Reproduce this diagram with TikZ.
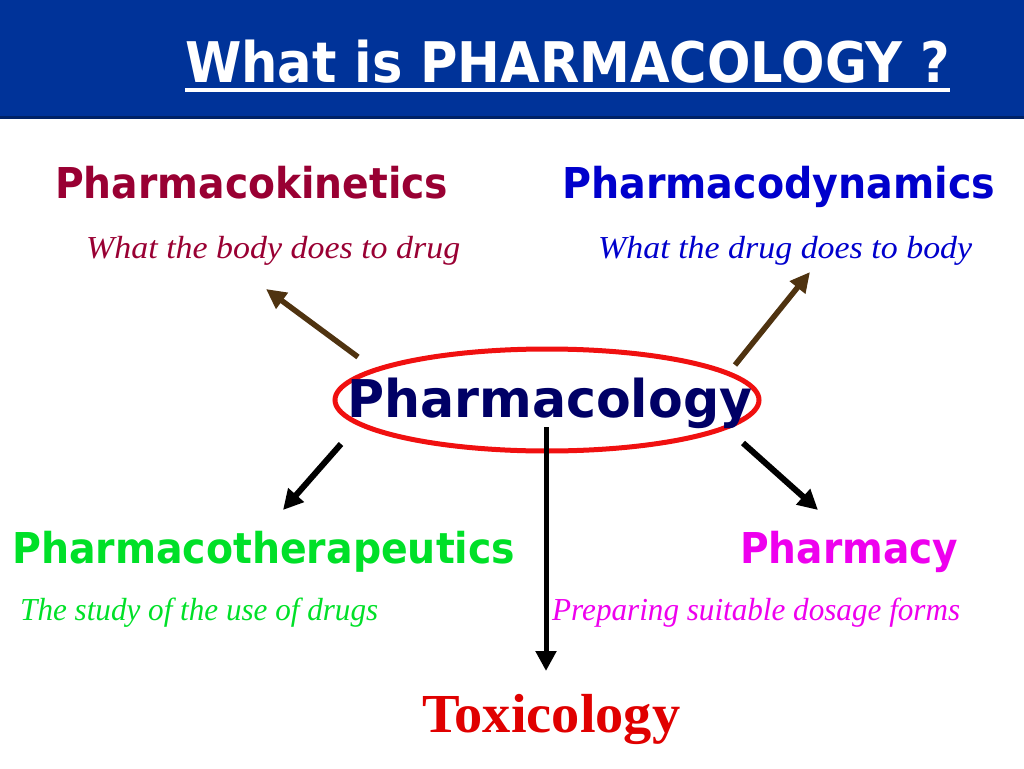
\documentclass[tikz,border=0pt]{standalone}
\usepackage{fontspec}
\setmainfont{Liberation Serif}
\newfontfamily\dvs{DejaVu Sans}
\usepackage{graphicx}
\usetikzlibrary{arrows.meta}
\definecolor{titleblue}{HTML}{003399}
\definecolor{titledark}{HTML}{002266}
\definecolor{kin}{HTML}{990033}
\definecolor{dyn}{HTML}{0000CC}
\definecolor{navy}{HTML}{000066}
\definecolor{ellred}{HTML}{F01010}
\definecolor{grn}{HTML}{00E028}
\definecolor{mag}{HTML}{EE00EE}
\definecolor{tox}{HTML}{E00000}
\definecolor{arrbrown}{HTML}{4F3310}
\newcommand\fitw[2]{\resizebox{#1}{\height}{#2}}
\newcommand\headfont{\dvs\bfseries\fontsize{42.5}{48}\selectfont}
\newcommand\itfont{\itshape\fontsize{32}{36}\selectfont}
\begin{document}
\begin{tikzpicture}[x=1pt,y=-1pt,
  txt/.style={inner sep=0pt, anchor=base west},
  brownarrow/.style={draw=arrbrown, line width=5.5pt, -{Triangle[length=20pt,width=19pt]}},
  blackarrow/.style={draw=black, line width=6pt, -{Triangle[length=20pt,width=20pt]}}]
\useasboundingbox (0,0) rectangle (1024,768);
% title bar
\fill[titleblue] (0,0) rectangle (1024,117);
\draw[titledark, line width=3pt] (0,117) -- (1024,117);
\node[txt, text=white] (title) at (185,82)
  {\fitw{765pt}{\dvs\bfseries\fontsize{56}{60}\selectfont What is PHARMACOLOGY ?}};
\draw[white, line width=3.5pt] ([yshift=-8pt]title.base west) -- ([yshift=-8pt]title.base east);
% ellipse
\coordinate (ec) at (547,400);
\draw[ellred, line width=5pt] (ec) ellipse [x radius=212pt, y radius=51pt];
% arrows
\coordinate (bls) at (358,357); \coordinate (ble) at (266,289);
\coordinate (brs) at (735,365); \coordinate (bre) at (810,272);
\coordinate (kls) at (341,444); \coordinate (kle) at (283,510);
\coordinate (krs) at (743,443); \coordinate (kre) at (818,510);
\coordinate (vs) at (546,427); \coordinate (ve) at (546,671);
\draw[brownarrow] (bls) -- (ble);
\draw[brownarrow] (brs) -- (bre);
\draw[blackarrow] (kls) -- (kle);
\draw[blackarrow] (krs) -- (kre);
\draw[blackarrow, line width=5pt] (vs) -- (ve);
% texts
\node[txt, text=kin] (pk) at (55,198) {\fitw{393pt}{\headfont Pharmacokinetics}};
\node[txt, text=dyn] (pd) at (562,198) {\fitw{433pt}{\headfont Pharmacodynamics}};
\node[txt, text=kin] (pkd) at (86,258) {\fitw{374pt}{\itfont What the body does to drug}};
\node[txt, text=dyn] (pdd) at (598,258) {\fitw{374pt}{\itfont What the drug does to body}};
\node[txt, text=navy] (pc) at (347,417) {\fitw{405pt}{\dvs\bfseries\fontsize{52}{58}\selectfont Pharmacology}};
\node[txt, text=grn] (pt) at (12,563) {\fitw{503pt}{\headfont Pharmacotherapeutics}};
\node[txt, text=mag] (ph) at (740,563) {\fitw{218pt}{\headfont Pharmacy}};
\node[txt, text=grn] (ptd) at (20,620) {\fitw{358pt}{\itfont The study of the use of drugs}};
\node[txt, text=mag] (phd) at (552,620) {\fitw{408pt}{\itfont Preparing suitable dosage forms}};
\node[txt, text=tox] (tx) at (422,732) {\fitw{258pt}{\bfseries\fontsize{55}{60}\selectfont Toxicology}};
\end{tikzpicture}
\end{document}
